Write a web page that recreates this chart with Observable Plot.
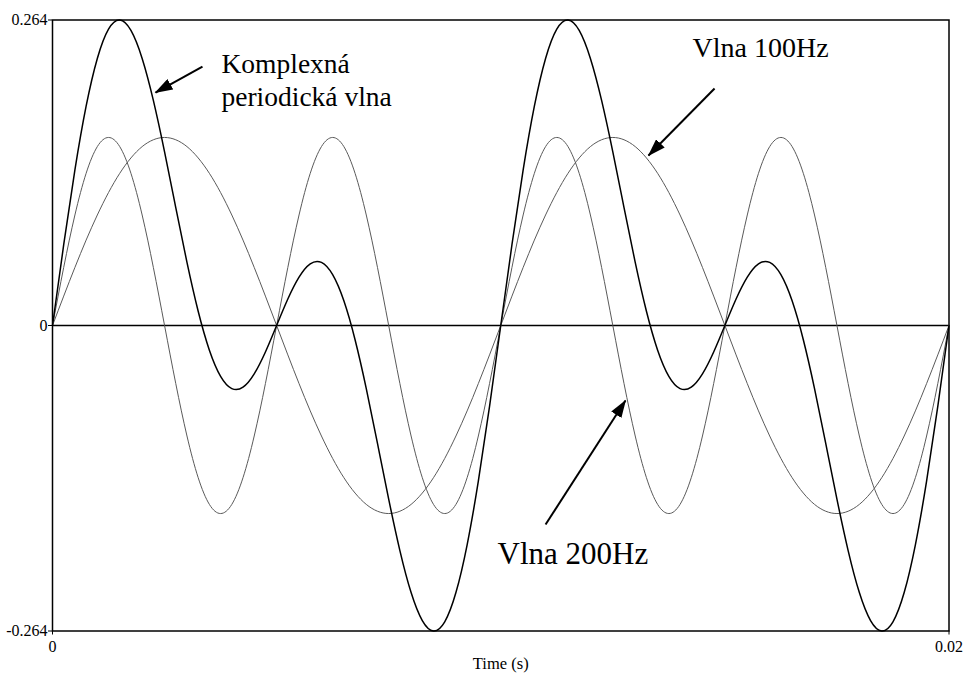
<!DOCTYPE html>
<html>
<head>
<meta charset="utf-8">
<script src="https://cdn.jsdelivr.net/npm/d3@7"></script>
<script src="https://cdn.jsdelivr.net/npm/@observablehq/plot@0.6"></script>
<style>
  html, body { margin: 0; padding: 0; background: #fff; }
  #chart svg [aria-label$="tick label"] { font-size: 16px; }
</style>
</head>
<body>
<div id="chart"></div>
<script>
// Sample times (s), every 0.25 ms over 20 ms
const time = [
  0, 0.00025, 0.0005, 0.00075, 0.001, 0.00125, 0.0015, 0.00175, 0.002, 0.00225,
  0.0025, 0.00275, 0.003, 0.00325, 0.0035, 0.00375, 0.004, 0.00425, 0.0045, 0.00475,
  0.005, 0.00525, 0.0055, 0.00575, 0.006, 0.00625, 0.0065, 0.00675, 0.007, 0.00725,
  0.0075, 0.00775, 0.008, 0.00825, 0.0085, 0.00875, 0.009, 0.00925, 0.0095, 0.00975,
  0.01, 0.01025, 0.0105, 0.01075, 0.011, 0.01125, 0.0115, 0.01175, 0.012, 0.01225,
  0.0125, 0.01275, 0.013, 0.01325, 0.0135, 0.01375, 0.014, 0.01425, 0.0145, 0.01475,
  0.015, 0.01525, 0.0155, 0.01575, 0.016, 0.01625, 0.0165, 0.01675, 0.017, 0.01725,
  0.0175, 0.01775, 0.018, 0.01825, 0.0185, 0.01875, 0.019, 0.01925, 0.0195, 0.01975,
  0.02
];

// 100 Hz component
const wave100 = [
  0, 0.0254, 0.0502, 0.0738, 0.0955, 0.1149, 0.1315, 0.1448, 0.1546, 0.1605,
  0.1625, 0.1605, 0.1546, 0.1448, 0.1315, 0.1149, 0.0955, 0.0738, 0.0502, 0.0254,
  0, -0.0254, -0.0502, -0.0738, -0.0955, -0.1149, -0.1315, -0.1448, -0.1546, -0.1605,
  -0.1625, -0.1605, -0.1546, -0.1448, -0.1315, -0.1149, -0.0955, -0.0738, -0.0502, -0.0254,
  0, 0.0254, 0.0502, 0.0738, 0.0955, 0.1149, 0.1315, 0.1448, 0.1546, 0.1605,
  0.1625, 0.1605, 0.1546, 0.1448, 0.1315, 0.1149, 0.0955, 0.0738, 0.0502, 0.0254,
  0, -0.0254, -0.0502, -0.0738, -0.0955, -0.1149, -0.1315, -0.1448, -0.1546, -0.1605,
  -0.1625, -0.1605, -0.1546, -0.1448, -0.1315, -0.1149, -0.0955, -0.0738, -0.0502, -0.0254,
  0
];

// 200 Hz component
const wave200 = [
  0, 0.0502, 0.0955, 0.1315, 0.1546, 0.1625, 0.1546, 0.1315, 0.0955, 0.0502,
  0, -0.0502, -0.0955, -0.1315, -0.1546, -0.1625, -0.1546, -0.1315, -0.0955, -0.0502,
  0, 0.0502, 0.0955, 0.1315, 0.1546, 0.1625, 0.1546, 0.1315, 0.0955, 0.0502,
  0, -0.0502, -0.0955, -0.1315, -0.1546, -0.1625, -0.1546, -0.1315, -0.0955, -0.0502,
  0, 0.0502, 0.0955, 0.1315, 0.1546, 0.1625, 0.1546, 0.1315, 0.0955, 0.0502,
  0, -0.0502, -0.0955, -0.1315, -0.1546, -0.1625, -0.1546, -0.1315, -0.0955, -0.0502,
  0, 0.0502, 0.0955, 0.1315, 0.1546, 0.1625, 0.1546, 0.1315, 0.0955, 0.0502,
  0, -0.0502, -0.0955, -0.1315, -0.1546, -0.1625, -0.1546, -0.1315, -0.0955, -0.0502,
  0
];

// Complex periodic wave
const complexWave = [
  0, 0.0698, 0.1345, 0.1895, 0.2308, 0.2561, 0.2640, 0.2550, 0.2308, 0.1945,
  0.1500, 0.1018, 0.0545, 0.0123, -0.0213, -0.0439, -0.0545, -0.0533, -0.0418, -0.0229,
  0, 0.0229, 0.0418, 0.0533, 0.0545, 0.0439, 0.0213, -0.0123, -0.0545, -0.1018,
  -0.1500, -0.1945, -0.2308, -0.2550, -0.2640, -0.2561, -0.2308, -0.1895, -0.1345, -0.0698,
  0, 0.0698, 0.1345, 0.1895, 0.2308, 0.2561, 0.2640, 0.2550, 0.2308, 0.1945,
  0.1500, 0.1018, 0.0545, 0.0123, -0.0213, -0.0439, -0.0545, -0.0533, -0.0418, -0.0229,
  0, 0.0229, 0.0418, 0.0533, 0.0545, 0.0439, 0.0213, -0.0123, -0.0545, -0.1018,
  -0.1500, -0.1945, -0.2308, -0.2550, -0.2640, -0.2561, -0.2308, -0.1895, -0.1345, -0.0698,
  0
];

// Axis ticks
const xTicks = [0, 0.02];
const xTickLabels = ["0", "0.02"];
const yTicks = [-0.264, 0, 0.264];
const yTickLabels = ["-0.264", "0", "0.264"];
const xAxisTitle = "Time (s)";

// Annotations (data coordinates)
const labelText = ["Komplexná", "periodická vlna", "Vlna 100Hz", "Vlna 200Hz"];
const labelX = [0.00377, 0.00377, 0.01428, 0.00993];
const labelY = [0.2254, 0.1977, 0.2402, -0.1979];
const labelSize = [27.5, 27.5, 28, 31];

const arrowX1 = [0.003346, 0.01477, 0.011];
const arrowY1 = [0.2238, 0.2048, -0.172];
const arrowX2 = [0.002298, 0.013296, 0.012783];
const arrowY2 = [0.2013, 0.1469, -0.0648];

const idx = time.map((_, i) => i);
const labels = labelText.map((text, i) => ({text, x: labelX[i], y: labelY[i], size: labelSize[i]}));
const arrows = arrowX1.map((x1, i) => ({x1, y1: arrowY1[i], x2: arrowX2[i], y2: arrowY2[i]}));

const svg = Plot.plot({
  width: 963,
  height: 673,
  marginTop: 19.5,
  marginRight: 14.5,
  marginBottom: 42.5,
  marginLeft: 52,
  style: {
    fontFamily: "'Liberation Serif', 'Times New Roman', serif",
    fontSize: "16px",
    background: "#fff",
    color: "#000",
    overflow: "visible"
  },
  x: {
    domain: [0, 0.02],
    ticks: xTicks,
    tickFormat: d => xTickLabels[xTicks.indexOf(d)],
    tickSize: 4,
    tickPadding: 6,
    label: null
  },
  y: {
    domain: [-0.264, 0.264],
    ticks: yTicks,
    tickFormat: d => yTickLabels[yTicks.indexOf(d)],
    tickSize: 4,
    tickPadding: 1,
    label: null
  },
  marks: [
    Plot.frame({stroke: "#000", strokeWidth: 1.5}),
    Plot.ruleY([0], {stroke: "#000", strokeWidth: 1.5}),
    Plot.line(idx, {x: i => time[i], y: i => wave100[i], curve: "natural", stroke: "#5a5a5a", strokeWidth: 1}),
    Plot.line(idx, {x: i => time[i], y: i => wave200[i], curve: "natural", stroke: "#5a5a5a", strokeWidth: 1}),
    Plot.line(idx, {x: i => time[i], y: i => complexWave[i], curve: "natural", stroke: "#000", strokeWidth: 1.5}),
    Plot.link(arrows, {x1: "x1", y1: "y1", x2: "x2", y2: "y2", stroke: "#000", strokeWidth: 2, markerEnd: "arrow"}),
    Plot.text(labels, {x: "x", y: "y", text: "text", fontSize: "size", textAnchor: "start", lineAnchor: "middle", fill: "#000"}),
    Plot.text([xAxisTitle], {frameAnchor: "bottom", dy: 32.5, lineAnchor: "middle", fontSize: 16.5, fill: "#000"})
  ]
});

// Solid, filled arrowheads for the annotation pointers
d3.select(svg).selectAll("marker").each(function () {
  const m = d3.select(this);
  m.attr("viewBox", "-17 -6 18 12")
    .attr("markerWidth", 18)
    .attr("markerHeight", 12)
    .attr("markerUnits", "userSpaceOnUse")
    .attr("refX", 0)
    .attr("refY", 0)
    .attr("fill", "#000")
    .attr("stroke", "none");
  m.selectAll("*").remove();
  m.append("path").attr("d", "M-17,-6L1,0L-17,6Z");
});

document.getElementById("chart").appendChild(svg);
</script>
</body>
</html>
